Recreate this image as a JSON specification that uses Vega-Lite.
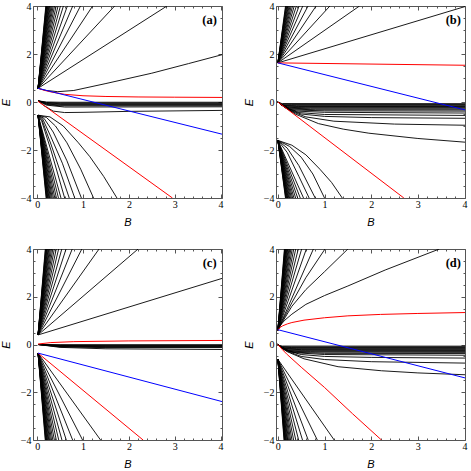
{
"$schema":"https://vega.github.io/schema/vega-lite/v6.json",
"padding":{"left":0,"top":0,"right":0,"bottom":0},
"config":{"view":{"stroke":"#555","strokeWidth":1},"axis":{"labelFont":"Liberation Serif","labelFontSize":10,"labelColor":"#000","titleFont":"Liberation Sans","titleFontSize":11,"titleFontStyle":"italic","titleFontWeight":"normal","titleColor":"#000","tickColor":"#555","domain":false,"grid":false}},
"datasets":{
"aS":[
{"x":0.02,"y":0.57,"x2":2.83,"y2":4},{"x":0.02,"y":0.57,"x2":1.69,"y2":4},{"x":0.02,"y":0.57,"x2":1.21,"y2":4},{"x":0.02,"y":0.57,"x2":0.945,"y2":4},{"x":0.02,"y":0.57,"x2":0.776,"y2":4},{"x":0.02,"y":0.57,"x2":0.659,"y2":4},{"x":0.02,"y":0.57,"x2":0.573,"y2":4},{"x":0.02,"y":0.57,"x2":0.508,"y2":4},{"x":0.02,"y":0.57,"x2":0.456,"y2":4},{"x":0.02,"y":0.57,"x2":0.415,"y2":4},{"x":0.02,"y":0.57,"x2":0.38,"y2":4},{"x":0.02,"y":0.57,"x2":0.351,"y2":4},{"x":0.02,"y":0.57,"x2":0.327,"y2":4},{"x":0.02,"y":0.57,"x2":0.306,"y2":4},{"x":0.02,"y":0.57,"x2":0.287,"y2":4},{"x":0.02,"y":0.57,"x2":0.271,"y2":4},{"x":0.02,"y":0.57,"x2":0.257,"y2":4},{"x":0.02,"y":0.57,"x2":0.244,"y2":4},{"x":0.02,"y":0.57,"x2":0.232,"y2":4},{"x":0.02,"y":0.57,"x2":0.222,"y2":4},{"x":0.02,"y":0.57,"x2":0.212,"y2":4},{"x":0.02,"y":0.57,"x2":0.204,"y2":4},{"x":0.02,"y":0.57,"x2":0.196,"y2":4},{"x":0.02,"y":0.57,"x2":0.189,"y2":4},
{"x":0.02,"y":-0.55,"x2":0.52,"y2":-4},{"x":0.02,"y":-0.55,"x2":0.465,"y2":-4},{"x":0.02,"y":-0.55,"x2":0.421,"y2":-4},{"x":0.02,"y":-0.55,"x2":0.385,"y2":-4},{"x":0.02,"y":-0.55,"x2":0.355,"y2":-4},{"x":0.02,"y":-0.55,"x2":0.329,"y2":-4},{"x":0.02,"y":-0.55,"x2":0.308,"y2":-4},{"x":0.02,"y":-0.55,"x2":0.288,"y2":-4},{"x":0.02,"y":-0.55,"x2":0.272,"y2":-4},{"x":0.02,"y":-0.55,"x2":0.257,"y2":-4},{"x":0.02,"y":-0.55,"x2":0.244,"y2":-4},{"x":0.02,"y":-0.55,"x2":0.232,"y2":-4},{"x":0.02,"y":-0.55,"x2":0.222,"y2":-4},{"x":0.02,"y":-0.55,"x2":0.212,"y2":-4},{"x":0.02,"y":-0.55,"x2":0.204,"y2":-4},{"x":0.02,"y":-0.55,"x2":0.196,"y2":-4}
],
"aK":[
{"k":"u0","x":0.02,"y":0.57},{"k":"u0","x":0.2,"y":0.48},{"k":"u0","x":0.45,"y":0.43},{"k":"u0","x":0.8,"y":0.48},{"k":"u0","x":1.5,"y":0.77},{"k":"u0","x":2.5,"y":1.2},{"k":"u0","x":3.3,"y":1.6},{"k":"u0","x":4.05,"y":1.98},
{"k":"d1","x":0.02,"y":-0.55},{"k":"d1","x":0.28,"y":-0.62},{"k":"d1","x":0.57,"y":-1.0},{"k":"d1","x":0.9,"y":-1.7},{"k":"d1","x":1.15,"y":-2.28},{"k":"d1","x":1.45,"y":-3.1},{"k":"d1","x":1.74,"y":-4},
{"k":"d2","x":0.02,"y":-0.55},{"k":"d2","x":0.2,"y":-0.64},{"k":"d2","x":0.4,"y":-1.0},{"k":"d2","x":0.65,"y":-1.7},{"k":"d2","x":0.95,"y":-2.8},{"k":"d2","x":1.23,"y":-4},
{"k":"d3","x":0.02,"y":-0.55},{"k":"d3","x":0.15,"y":-0.68},{"k":"d3","x":0.35,"y":-1.25},{"k":"d3","x":0.65,"y":-2.45},{"k":"d3","x":0.965,"y":-4},
{"k":"d4","x":0.02,"y":-0.55},{"k":"d4","x":0.12,"y":-0.7},{"k":"d4","x":0.3,"y":-1.45},{"k":"d4","x":0.55,"y":-2.55},{"k":"d4","x":0.82,"y":-4},
{"k":"d5","x":0.02,"y":-0.55},{"k":"d5","x":0.1,"y":-0.72},{"k":"d5","x":0.3,"y":-1.75},{"k":"d5","x":0.7,"y":-4},
{"k":"d6","x":0.02,"y":-0.55},{"k":"d6","x":0.1,"y":-0.8},{"k":"d6","x":0.3,"y":-2.0},{"k":"d6","x":0.6,"y":-4},
{"k":"b1","x":0.02,"y":0.05},{"k":"b1","x":0.2,"y":0.0},{"k":"b1","x":0.5,"y":-0.01},{"k":"b1","x":4.05,"y":-0.01},
{"k":"b2","x":0.02,"y":0.05},{"k":"b2","x":0.2,"y":-0.02},{"k":"b2","x":0.5,"y":-0.04},{"k":"b2","x":4.05,"y":-0.04},
{"k":"b3","x":0.02,"y":0.05},{"k":"b3","x":0.2,"y":-0.04},{"k":"b3","x":0.5,"y":-0.07},{"k":"b3","x":4.05,"y":-0.07},
{"k":"b4","x":0.02,"y":0.05},{"k":"b4","x":0.2,"y":-0.06},{"k":"b4","x":0.5,"y":-0.1},{"k":"b4","x":4.05,"y":-0.1},
{"k":"b5","x":0.02,"y":0.05},{"k":"b5","x":0.2,"y":-0.08},{"k":"b5","x":0.5,"y":-0.13},{"k":"b5","x":4.05,"y":-0.13},
{"k":"b6","x":0.02,"y":0.05},{"k":"b6","x":0.2,"y":-0.1},{"k":"b6","x":0.5,"y":-0.16},{"k":"b6","x":4.05,"y":-0.16},
{"k":"b7","x":0.02,"y":0.05},{"k":"b7","x":0.2,"y":-0.13},{"k":"b7","x":0.6,"y":-0.21},{"k":"b7","x":4.05,"y":-0.2},
{"k":"b8","x":0.02,"y":0.05},{"k":"b8","x":0.15,"y":-0.15},{"k":"b8","x":0.35,"y":-0.38},{"k":"b8","x":0.6,"y":-0.44},{"k":"b8","x":1.0,"y":-0.43},{"k":"b8","x":2,"y":-0.39},{"k":"b8","x":4.05,"y":-0.35}
],
"aX":[
{"k":"r1","s":"red","x":0.02,"y":0.57},{"k":"r1","s":"red","x":0.15,"y":0.49},{"k":"r1","s":"red","x":0.3,"y":0.42},{"k":"r1","s":"red","x":0.6,"y":0.32},{"k":"r1","s":"red","x":1.0,"y":0.26},{"k":"r1","s":"red","x":1.5,"y":0.23},{"k":"r1","s":"red","x":2.2,"y":0.21},{"k":"r1","s":"red","x":3,"y":0.2},{"k":"r1","s":"red","x":4.05,"y":0.19},
{"k":"r2","s":"red","x":0.02,"y":0.03},{"k":"r2","s":"red","x":2.95,"y":-4},
{"k":"b1","s":"blue","x":0.02,"y":0.57},{"k":"b1","s":"blue","x":4.05,"y":-1.35}
],
"bS":[
{"x":0,"y":1.63,"x2":4.05,"y2":4.0},
{"x":0,"y":1.63,"x2":1.749,"y2":4},{"x":0,"y":1.63,"x2":1.115,"y2":4},{"x":0,"y":1.63,"x2":0.819,"y2":4},{"x":0,"y":1.63,"x2":0.647,"y2":4},{"x":0,"y":1.63,"x2":0.534,"y2":4},{"x":0,"y":1.63,"x2":0.455,"y2":4},{"x":0,"y":1.63,"x2":0.397,"y2":4},{"x":0,"y":1.63,"x2":0.351,"y2":4},{"x":0,"y":1.63,"x2":0.315,"y2":4},{"x":0,"y":1.63,"x2":0.286,"y2":4},{"x":0,"y":1.63,"x2":0.262,"y2":4},{"x":0,"y":1.63,"x2":0.241,"y2":4},{"x":0,"y":1.63,"x2":0.224,"y2":4},{"x":0,"y":1.63,"x2":0.209,"y2":4},{"x":0,"y":1.63,"x2":0.195,"y2":4},{"x":0,"y":1.63,"x2":0.184,"y2":4},{"x":0,"y":1.63,"x2":0.173,"y2":4},{"x":0,"y":1.63,"x2":0.164,"y2":4},
{"x":0,"y":-1.6,"x2":0.55,"y2":-4},{"x":0,"y":-1.6,"x2":0.48,"y2":-4},{"x":0,"y":-1.6,"x2":0.425,"y2":-4},{"x":0,"y":-1.6,"x2":0.381,"y2":-4},{"x":0,"y":-1.6,"x2":0.345,"y2":-4},{"x":0,"y":-1.6,"x2":0.316,"y2":-4},{"x":0,"y":-1.6,"x2":0.291,"y2":-4},{"x":0,"y":-1.6,"x2":0.27,"y2":-4},{"x":0,"y":-1.6,"x2":0.251,"y2":-4},{"x":0,"y":-1.6,"x2":0.235,"y2":-4},{"x":0,"y":-1.6,"x2":0.221,"y2":-4},{"x":0,"y":-1.6,"x2":0.209,"y2":-4},{"x":0,"y":-1.6,"x2":0.198,"y2":-4},{"x":0,"y":-1.6,"x2":0.188,"y2":-4},{"x":0,"y":-1.6,"x2":0.178,"y2":-4},{"x":0,"y":-1.6,"x2":0.17,"y2":-4},{"x":0,"y":-1.6,"x2":0.163,"y2":-4}
],
"bK":[
{"k":"d1","x":0,"y":-1.6},{"k":"d1","x":0.3,"y":-1.8},{"k":"d1","x":0.6,"y":-2.2},{"k":"d1","x":0.9,"y":-2.8},{"k":"d1","x":1.15,"y":-3.35},{"k":"d1","x":1.38,"y":-4},
{"k":"d2","x":0,"y":-1.6},{"k":"d2","x":0.25,"y":-1.85},{"k":"d2","x":0.5,"y":-2.3},{"k":"d2","x":0.75,"y":-3.0},{"k":"d2","x":1.0,"y":-4},
{"k":"d3","x":0,"y":-1.6},{"k":"d3","x":0.2,"y":-1.92},{"k":"d3","x":0.45,"y":-2.65},{"k":"d3","x":0.8,"y":-4},
{"k":"d4","x":0,"y":-1.6},{"k":"d4","x":0.2,"y":-2.1},{"k":"d4","x":0.45,"y":-3.1},{"k":"d4","x":0.67,"y":-4},
{"k":"L1","x":0,"y":0},{"k":"L1","x":0.15,"y":-0.22},{"k":"L1","x":0.37,"y":-0.5},{"k":"L1","x":0.87,"y":-0.9},{"k":"L1","x":1.4,"y":-1.13},{"k":"L1","x":1.95,"y":-1.3},{"k":"L1","x":3,"y":-1.52},{"k":"L1","x":4.05,"y":-1.68},
{"k":"L2","x":0,"y":0},{"k":"L2","x":0.15,"y":-0.22},{"k":"L2","x":0.3,"y":-0.4},{"k":"L2","x":0.6,"y":-0.62},{"k":"L2","x":1.2,"y":-0.8},{"k":"L2","x":2.5,"y":-0.92},{"k":"L2","x":4.05,"y":-0.97},
{"k":"L3","x":0,"y":0},{"k":"L3","x":0.12,"y":-0.18},{"k":"L3","x":0.25,"y":-0.34},{"k":"L3","x":0.5,"y":-0.5},{"k":"L3","x":1,"y":-0.6},{"k":"L3","x":2,"y":-0.65},{"k":"L3","x":4.05,"y":-0.68},
{"k":"L4","x":0,"y":0},{"k":"L4","x":0.1,"y":-0.15},{"k":"L4","x":0.2,"y":-0.28},{"k":"L4","x":0.45,"y":-0.44},{"k":"L4","x":1,"y":-0.52},{"k":"L4","x":4.05,"y":-0.56},
{"k":"L5","x":0,"y":0},{"k":"L5","x":0.1,"y":-0.15},{"k":"L5","x":0.2,"y":-0.27},{"k":"L5","x":0.4,"y":-0.38},{"k":"L5","x":1,"y":-0.43},{"k":"L5","x":4.05,"y":-0.46},
{"k":"L6","x":0,"y":0},{"k":"L6","x":0.1,"y":-0.15},{"k":"L6","x":0.3,"y":-0.33},{"k":"L6","x":1,"y":-0.37},{"k":"L6","x":4.05,"y":-0.38},
{"k":"L7","x":0,"y":0},{"k":"L7","x":0.1,"y":-0.15},{"k":"L7","x":0.25,"y":-0.29},{"k":"L7","x":0.8,"y":-0.325},{"k":"L7","x":4.05,"y":-0.33},
{"k":"L8","x":0,"y":0},{"k":"L8","x":0.1,"y":-0.14},{"k":"L8","x":0.25,"y":-0.26},{"k":"L8","x":0.7,"y":-0.285},{"k":"L8","x":4.05,"y":-0.29},
{"k":"L9","x":0,"y":0},{"k":"L9","x":0.1,"y":-0.14},{"k":"L9","x":0.2,"y":-0.22},{"k":"L9","x":0.6,"y":-0.245},{"k":"L9","x":4.05,"y":-0.25},
{"k":"L10","x":0,"y":0},{"k":"L10","x":0.08,"y":-0.12},{"k":"L10","x":0.2,"y":-0.2},{"k":"L10","x":0.5,"y":-0.215},{"k":"L10","x":4.05,"y":-0.22},
{"k":"L11","x":0,"y":0},{"k":"L11","x":0.08,"y":-0.11},{"k":"L11","x":0.18,"y":-0.17},{"k":"L11","x":0.45,"y":-0.186},{"k":"L11","x":4.05,"y":-0.19},
{"k":"L12","x":0,"y":0},{"k":"L12","x":0.07,"y":-0.1},{"k":"L12","x":0.15,"y":-0.145},{"k":"L12","x":0.4,"y":-0.158},{"k":"L12","x":4.05,"y":-0.16},
{"k":"L13","x":0,"y":0},{"k":"L13","x":0.06,"y":-0.085},{"k":"L13","x":0.12,"y":-0.12},{"k":"L13","x":0.3,"y":-0.128},{"k":"L13","x":4.05,"y":-0.13},
{"k":"L14","x":0,"y":0},{"k":"L14","x":0.05,"y":-0.07},{"k":"L14","x":0.1,"y":-0.09},{"k":"L14","x":0.3,"y":-0.099},{"k":"L14","x":4.05,"y":-0.1},
{"k":"L15","x":0,"y":0},{"k":"L15","x":0.04,"y":-0.05},{"k":"L15","x":0.1,"y":-0.065},{"k":"L15","x":4.05,"y":-0.07}
],
"bX":[
{"k":"r1","s":"red","x":0,"y":1.63},{"k":"r1","s":"red","x":4.05,"y":1.53},
{"k":"r2","s":"red","x":0,"y":0},{"k":"r2","s":"red","x":2.7,"y":-4},
{"k":"b1","s":"blue","x":0,"y":1.63},{"k":"b1","s":"blue","x":4.05,"y":-0.35}
],
"cS":[
{"x":0.02,"y":0.4,"x2":4.05,"y2":2.78},
{"x":0.02,"y":0.4,"x2":2.2,"y2":4},{"x":0.02,"y":0.4,"x2":1.35,"y2":4},{"x":0.02,"y":0.4,"x2":0.975,"y2":4},{"x":0.02,"y":0.4,"x2":0.765,"y2":4},{"x":0.02,"y":0.4,"x2":0.631,"y2":4},{"x":0.02,"y":0.4,"x2":0.538,"y2":4},{"x":0.02,"y":0.4,"x2":0.469,"y2":4},{"x":0.02,"y":0.4,"x2":0.417,"y2":4},{"x":0.02,"y":0.4,"x2":0.375,"y2":4},{"x":0.02,"y":0.4,"x2":0.342,"y2":4},{"x":0.02,"y":0.4,"x2":0.314,"y2":4},{"x":0.02,"y":0.4,"x2":0.29,"y2":4},{"x":0.02,"y":0.4,"x2":0.27,"y2":4},{"x":0.02,"y":0.4,"x2":0.253,"y2":4},{"x":0.02,"y":0.4,"x2":0.238,"y2":4},{"x":0.02,"y":0.4,"x2":0.225,"y2":4},{"x":0.02,"y":0.4,"x2":0.213,"y2":4},{"x":0.02,"y":0.4,"x2":0.203,"y2":4},{"x":0.02,"y":0.4,"x2":0.194,"y2":4},{"x":0.02,"y":0.4,"x2":0.185,"y2":4},{"x":0.02,"y":0.4,"x2":0.178,"y2":4},
{"x":0.02,"y":-0.36,"x2":1.383,"y2":-4},{"x":0.02,"y":-0.36,"x2":0.991,"y2":-4},{"x":0.02,"y":-0.36,"x2":0.774,"y2":-4},{"x":0.02,"y":-0.36,"x2":0.636,"y2":-4},{"x":0.02,"y":-0.36,"x2":0.541,"y2":-4},{"x":0.02,"y":-0.36,"x2":0.471,"y2":-4},{"x":0.02,"y":-0.36,"x2":0.418,"y2":-4},{"x":0.02,"y":-0.36,"x2":0.376,"y2":-4},{"x":0.02,"y":-0.36,"x2":0.342,"y2":-4},{"x":0.02,"y":-0.36,"x2":0.314,"y2":-4},{"x":0.02,"y":-0.36,"x2":0.29,"y2":-4},{"x":0.02,"y":-0.36,"x2":0.27,"y2":-4},{"x":0.02,"y":-0.36,"x2":0.253,"y2":-4},{"x":0.02,"y":-0.36,"x2":0.238,"y2":-4},{"x":0.02,"y":-0.36,"x2":0.225,"y2":-4},{"x":0.02,"y":-0.36,"x2":0.213,"y2":-4},{"x":0.02,"y":-0.36,"x2":0.203,"y2":-4},{"x":0.02,"y":-0.36,"x2":0.193,"y2":-4},{"x":0.02,"y":-0.36,"x2":0.185,"y2":-4},{"x":0.02,"y":-0.36,"x2":0.177,"y2":-4}
],
"cK":[
{"k":"c1","x":0.02,"y":0},{"k":"c1","x":0.5,"y":-0.01},{"k":"c1","x":4.05,"y":-0.01},
{"k":"c2","x":0.02,"y":0},{"k":"c2","x":0.5,"y":-0.025},{"k":"c2","x":1.5,"y":-0.03},{"k":"c2","x":4.05,"y":-0.03},
{"k":"c3","x":0.02,"y":0},{"k":"c3","x":0.5,"y":-0.04},{"k":"c3","x":1.5,"y":-0.05},{"k":"c3","x":4.05,"y":-0.05},
{"k":"c4","x":0.02,"y":0},{"k":"c4","x":0.5,"y":-0.055},{"k":"c4","x":1.5,"y":-0.07},{"k":"c4","x":4.05,"y":-0.07},
{"k":"c5","x":0.02,"y":0},{"k":"c5","x":0.5,"y":-0.07},{"k":"c5","x":1.5,"y":-0.09},{"k":"c5","x":4.05,"y":-0.09},
{"k":"c6","x":0.02,"y":0},{"k":"c6","x":0.5,"y":-0.085},{"k":"c6","x":1.5,"y":-0.11},{"k":"c6","x":4.05,"y":-0.11},
{"k":"c7","x":0.02,"y":0},{"k":"c7","x":0.5,"y":-0.1},{"k":"c7","x":1.5,"y":-0.13},{"k":"c7","x":4.05,"y":-0.13},
{"k":"c8","x":0.02,"y":0},{"k":"c8","x":0.5,"y":-0.12},{"k":"c8","x":1.5,"y":-0.18},{"k":"c8","x":4.05,"y":-0.21}
],
"cX":[
{"k":"r1","s":"red","x":0.02,"y":0.02},{"k":"r1","s":"red","x":0.3,"y":0.08},{"k":"r1","s":"red","x":0.8,"y":0.12},{"k":"r1","s":"red","x":2,"y":0.15},{"k":"r1","s":"red","x":4.05,"y":0.17},
{"k":"r2","s":"red","x":0.02,"y":-0.36},{"k":"r2","s":"red","x":2.31,"y":-4},
{"k":"b1","s":"blue","x":0.02,"y":-0.36},{"k":"b1","s":"blue","x":4.05,"y":-2.4}
],
"dS":[
{"x":0,"y":0.6,"x2":0.761,"y2":4},{"x":0,"y":0.6,"x2":0.61,"y2":4},{"x":0,"y":0.6,"x2":0.51,"y2":4},{"x":0,"y":0.6,"x2":0.438,"y2":4},{"x":0,"y":0.6,"x2":0.383,"y2":4},{"x":0,"y":0.6,"x2":0.341,"y2":4},{"x":0,"y":0.6,"x2":0.307,"y2":4},{"x":0,"y":0.6,"x2":0.279,"y2":4},{"x":0,"y":0.6,"x2":0.256,"y2":4},{"x":0,"y":0.6,"x2":0.237,"y2":4},{"x":0,"y":0.6,"x2":0.22,"y2":4},{"x":0,"y":0.6,"x2":0.205,"y2":4},{"x":0,"y":0.6,"x2":0.192,"y2":4},{"x":0,"y":0.6,"x2":0.181,"y2":4},{"x":0,"y":0.6,"x2":0.171,"y2":4},{"x":0,"y":0.6,"x2":0.162,"y2":4},{"x":0,"y":0.6,"x2":0.154,"y2":4},{"x":0,"y":0.6,"x2":0.147,"y2":4},{"x":0,"y":0.6,"x2":0.14,"y2":4},
{"x":0,"y":-0.62,"x2":1.207,"y2":-4},{"x":0,"y":-0.62,"x2":0.845,"y2":-4},{"x":0,"y":-0.62,"x2":0.65,"y2":-4},{"x":0,"y":-0.62,"x2":0.528,"y2":-4},{"x":0,"y":-0.62,"x2":0.445,"y2":-4},{"x":0,"y":-0.62,"x2":0.384,"y2":-4},{"x":0,"y":-0.62,"x2":0.338,"y2":-4},{"x":0,"y":-0.62,"x2":0.302,"y2":-4},{"x":0,"y":-0.62,"x2":0.273,"y2":-4},{"x":0,"y":-0.62,"x2":0.249,"y2":-4},{"x":0,"y":-0.62,"x2":0.228,"y2":-4},{"x":0,"y":-0.62,"x2":0.211,"y2":-4},{"x":0,"y":-0.62,"x2":0.197,"y2":-4},{"x":0,"y":-0.62,"x2":0.184,"y2":-4},{"x":0,"y":-0.62,"x2":0.172,"y2":-4},{"x":0,"y":-0.62,"x2":0.163,"y2":-4},{"x":0,"y":-0.62,"x2":0.154,"y2":-4},{"x":0,"y":-0.62,"x2":0.146,"y2":-4},{"x":0,"y":-0.62,"x2":0.139,"y2":-4},{"x":0,"y":-0.62,"x2":0.132,"y2":-4}
],
"dK":[
{"k":"u0","x":0,"y":0.6},{"k":"u0","x":0.05,"y":0.8},{"k":"u0","x":0.15,"y":1.02},{"k":"u0","x":0.3,"y":1.27},{"k":"u0","x":0.6,"y":1.68},{"k":"u0","x":1.0,"y":2.05},{"k":"u0","x":1.5,"y":2.45},{"k":"u0","x":2.3,"y":3.12},{"k":"u0","x":3.46,"y":4},
{"k":"u1","x":0,"y":0.6},{"k":"u1","x":0.1,"y":0.95},{"k":"u1","x":0.3,"y":1.6},{"k":"u1","x":0.6,"y":2.3},{"k":"u1","x":1.0,"y":3.05},{"k":"u1","x":1.5,"y":4},
{"k":"u2","x":0,"y":0.6},{"k":"u2","x":0.1,"y":1.0},{"k":"u2","x":0.3,"y":1.75},{"k":"u2","x":0.6,"y":2.8},{"k":"u2","x":1.01,"y":4},
{"k":"L1","x":0,"y":0},{"k":"L1","x":0.1,"y":-0.17},{"k":"L1","x":0.2,"y":-0.3},{"k":"L1","x":0.56,"y":-0.6},{"k":"L1","x":1.29,"y":-0.93},{"k":"L1","x":2.22,"y":-1.1},{"k":"L1","x":3,"y":-1.19},{"k":"L1","x":4.05,"y":-1.27},
{"k":"L2","x":0,"y":0},{"k":"L2","x":0.1,"y":-0.17},{"k":"L2","x":0.2,"y":-0.28},{"k":"L2","x":0.5,"y":-0.5},{"k":"L2","x":1.0,"y":-0.63},{"k":"L2","x":2,"y":-0.72},{"k":"L2","x":4.05,"y":-0.78},
{"k":"L3","x":0,"y":0},{"k":"L3","x":0.1,"y":-0.16},{"k":"L3","x":0.2,"y":-0.26},{"k":"L3","x":0.5,"y":-0.42},{"k":"L3","x":1,"y":-0.5},{"k":"L3","x":2,"y":-0.54},{"k":"L3","x":4.05,"y":-0.57},
{"k":"L4","x":0,"y":0},{"k":"L4","x":0.08,"y":-0.13},{"k":"L4","x":0.15,"y":-0.22},{"k":"L4","x":0.4,"y":-0.35},{"k":"L4","x":1,"y":-0.42},{"k":"L4","x":4.05,"y":-0.45},
{"k":"L5","x":0,"y":0},{"k":"L5","x":0.08,"y":-0.13},{"k":"L5","x":0.3,"y":-0.32},{"k":"L5","x":1,"y":-0.37},{"k":"L5","x":4.05,"y":-0.38},
{"k":"L6","x":0,"y":0},{"k":"L6","x":0.08,"y":-0.13},{"k":"L6","x":0.25,"y":-0.28},{"k":"L6","x":0.8,"y":-0.32},{"k":"L6","x":4.05,"y":-0.33},
{"k":"L7","x":0,"y":0},{"k":"L7","x":0.07,"y":-0.12},{"k":"L7","x":0.22,"y":-0.25},{"k":"L7","x":0.7,"y":-0.285},{"k":"L7","x":4.05,"y":-0.29},
{"k":"L8","x":0,"y":0},{"k":"L8","x":0.07,"y":-0.12},{"k":"L8","x":0.2,"y":-0.22},{"k":"L8","x":0.6,"y":-0.245},{"k":"L8","x":4.05,"y":-0.25},
{"k":"L9","x":0,"y":0},{"k":"L9","x":0.06,"y":-0.1},{"k":"L9","x":0.18,"y":-0.19},{"k":"L9","x":0.5,"y":-0.215},{"k":"L9","x":4.05,"y":-0.22},
{"k":"L10","x":0,"y":0},{"k":"L10","x":0.06,"y":-0.1},{"k":"L10","x":0.16,"y":-0.165},{"k":"L10","x":0.45,"y":-0.186},{"k":"L10","x":4.05,"y":-0.19},
{"k":"L11","x":0,"y":0},{"k":"L11","x":0.05,"y":-0.085},{"k":"L11","x":0.14,"y":-0.14},{"k":"L11","x":0.4,"y":-0.158},{"k":"L11","x":4.05,"y":-0.16},
{"k":"L12","x":0,"y":0},{"k":"L12","x":0.05,"y":-0.08},{"k":"L12","x":0.12,"y":-0.115},{"k":"L12","x":0.3,"y":-0.128},{"k":"L12","x":4.05,"y":-0.13},
{"k":"L13","x":0,"y":0},{"k":"L13","x":0.04,"y":-0.06},{"k":"L13","x":0.1,"y":-0.09},{"k":"L13","x":0.3,"y":-0.099},{"k":"L13","x":4.05,"y":-0.1},
{"k":"L14","x":0,"y":0},{"k":"L14","x":0.04,"y":-0.05},{"k":"L14","x":0.1,"y":-0.065},{"k":"L14","x":4.05,"y":-0.07}
],
"dX":[
{"k":"r1","s":"red","x":0,"y":0.6},{"k":"r1","s":"red","x":0.05,"y":0.72},{"k":"r1","s":"red","x":0.1,"y":0.78},{"k":"r1","s":"red","x":0.2,"y":0.86},{"k":"r1","s":"red","x":0.3,"y":0.92},{"k":"r1","s":"red","x":0.56,"y":1.02},{"k":"r1","s":"red","x":1.0,"y":1.12},{"k":"r1","s":"red","x":1.5,"y":1.2},{"k":"r1","s":"red","x":2.2,"y":1.26},{"k":"r1","s":"red","x":3,"y":1.3},{"k":"r1","s":"red","x":4.05,"y":1.34},
{"k":"r2","s":"red","x":0,"y":0},{"k":"r2","s":"red","x":0.1,"y":-0.22},{"k":"r2","s":"red","x":0.2,"y":-0.42},{"k":"r2","s":"red","x":0.5,"y":-0.95},{"k":"r2","s":"red","x":1.0,"y":-1.8},{"k":"r2","s":"red","x":1.6,"y":-2.9},{"k":"r2","s":"red","x":2.22,"y":-4},
{"k":"b1","s":"blue","x":0,"y":0.62},{"k":"b1","s":"blue","x":4.05,"y":-1.42}
]
},
"columns":2,"spacing":{"row":51,"column":54},"bounds":"flush",
"concat":[
{"width":189,"height":192,"resolve":{"axis":{"x":"independent","y":"independent"}},"layer":[
{"data":{"name":"aS"},"mark":{"type":"rule","clip":true,"color":"#000","strokeWidth":0.9},"encoding":{
"x":{"field":"x","type":"quantitative","scale":{"domain":[-0.09,4.03],"nice":false,"zero":false},"axis":{"orient":"bottom","title":"B","format":"d","values":[0,1,2,3,4],"tickSize":-4,"labelFlush":false,"labelOverlap":false,"labelPadding":5,"titlePadding":7}},
"y":{"field":"y","type":"quantitative","scale":{"domain":[-4,4],"nice":false,"zero":false},"axis":{"orient":"left","title":"E","format":"d","values":[-4,-2,0,2,4],"tickSize":-4,"labelFlush":false,"labelOverlap":false,"labelPadding":6,"titlePadding":8.5}},
"x2":{"field":"x2"},"y2":{"field":"y2"}}},
{"data":{"name":"aK"},"mark":{"type":"line","clip":true,"color":"#000","strokeWidth":0.9},"encoding":{
"x":{"field":"x","type":"quantitative","scale":{"domain":[-0.09,4.03],"nice":false,"zero":false},"axis":{"orient":"bottom","title":null,"labels":false,"values":[0.2,0.4,0.6,0.8,1.2,1.4,1.6,1.8,2.2,2.4,2.6,2.8,3.2,3.4,3.6,3.8],"tickSize":-2}},
"y":{"field":"y","type":"quantitative","scale":{"domain":[-4,4],"nice":false,"zero":false},"axis":{"orient":"left","title":null,"labels":false,"values":[-3.5,-3,-2.5,-1.5,-1,-0.5,0.5,1,1.5,2.5,3,3.5],"tickSize":-2}},
"detail":{"field":"k"}}},
{"data":{"name":"aX"},"mark":{"type":"line","clip":true,"strokeWidth":1},"encoding":{
"x":{"field":"x","type":"quantitative","scale":{"domain":[-0.09,4.03],"nice":false,"zero":false},"axis":{"orient":"top","title":null,"labels":false,"values":[0,0.2,0.4,0.6,0.8,1,1.2,1.4,1.6,1.8,2,2.2,2.4,2.6,2.8,3,3.2,3.4,3.6,3.8,4],"tickSize":{"condition":{"test":"datum.value % 1 === 0","value":-4},"value":-2}}},
"y":{"field":"y","type":"quantitative","scale":{"domain":[-4,4],"nice":false,"zero":false},"axis":{"orient":"right","title":null,"labels":false,"values":[-4,-3.5,-3,-2.5,-2,-1.5,-1,-0.5,0,0.5,1,1.5,2,2.5,3,3.5,4],"tickSize":{"condition":{"test":"datum.value % 2 === 0","value":-4},"value":-2}}},
"detail":{"field":"k"},"color":{"field":"s","type":"nominal","scale":{"domain":["red","blue"],"range":["#ff0000","#0000ff"]},"legend":null}}},
{"data":{"values":[{"t":"(a)"}]},"mark":{"type":"text","font":"Liberation Serif","fontWeight":"bold","fontSize":12.5},"encoding":{
"x":{"datum":3.76,"type":"quantitative","scale":{"domain":[-0.09,4.03],"nice":false,"zero":false},"axis":null},
"y":{"datum":3.4,"type":"quantitative","scale":{"domain":[-4,4],"nice":false,"zero":false},"axis":null},
"text":{"field":"t"}}}
]},
{"width":189,"height":192,"resolve":{"axis":{"x":"independent","y":"independent"}},"layer":[
{"data":{"name":"bS"},"mark":{"type":"rule","clip":true,"color":"#000","strokeWidth":0.9},"encoding":{
"x":{"field":"x","type":"quantitative","scale":{"domain":[-0.04,4.01],"nice":false,"zero":false},"axis":{"orient":"bottom","title":"B","format":"d","values":[0,1,2,3,4],"tickSize":-4,"labelFlush":false,"labelOverlap":false,"labelPadding":5,"titlePadding":7}},
"y":{"field":"y","type":"quantitative","scale":{"domain":[-4,4],"nice":false,"zero":false},"axis":{"orient":"left","title":"E","format":"d","values":[-4,-2,0,2,4],"tickSize":-4,"labelFlush":false,"labelOverlap":false,"labelPadding":6,"titlePadding":8.5}},
"x2":{"field":"x2"},"y2":{"field":"y2"}}},
{"data":{"name":"bK"},"mark":{"type":"line","clip":true,"color":"#000","strokeWidth":0.9},"encoding":{
"x":{"field":"x","type":"quantitative","scale":{"domain":[-0.04,4.01],"nice":false,"zero":false},"axis":{"orient":"bottom","title":null,"labels":false,"values":[0.2,0.4,0.6,0.8,1.2,1.4,1.6,1.8,2.2,2.4,2.6,2.8,3.2,3.4,3.6,3.8],"tickSize":-2}},
"y":{"field":"y","type":"quantitative","scale":{"domain":[-4,4],"nice":false,"zero":false},"axis":{"orient":"left","title":null,"labels":false,"values":[-3.5,-3,-2.5,-1.5,-1,-0.5,0.5,1,1.5,2.5,3,3.5],"tickSize":-2}},
"detail":{"field":"k"}}},
{"data":{"name":"bX"},"mark":{"type":"line","clip":true,"strokeWidth":1},"encoding":{
"x":{"field":"x","type":"quantitative","scale":{"domain":[-0.04,4.01],"nice":false,"zero":false},"axis":{"orient":"top","title":null,"labels":false,"values":[0,0.2,0.4,0.6,0.8,1,1.2,1.4,1.6,1.8,2,2.2,2.4,2.6,2.8,3,3.2,3.4,3.6,3.8,4],"tickSize":{"condition":{"test":"datum.value % 1 === 0","value":-4},"value":-2}}},
"y":{"field":"y","type":"quantitative","scale":{"domain":[-4,4],"nice":false,"zero":false},"axis":{"orient":"right","title":null,"labels":false,"values":[-4,-3.5,-3,-2.5,-2,-1.5,-1,-0.5,0,0.5,1,1.5,2,2.5,3,3.5,4],"tickSize":{"condition":{"test":"datum.value % 2 === 0","value":-4},"value":-2}}},
"detail":{"field":"k"},"color":{"field":"s","type":"nominal","scale":{"domain":["red","blue"],"range":["#ff0000","#0000ff"]},"legend":null}}},
{"data":{"values":[{"t":"(b)"}]},"mark":{"type":"text","font":"Liberation Serif","fontWeight":"bold","fontSize":12.5},"encoding":{
"x":{"datum":3.76,"type":"quantitative","scale":{"domain":[-0.04,4.01],"nice":false,"zero":false},"axis":null},
"y":{"datum":3.4,"type":"quantitative","scale":{"domain":[-4,4],"nice":false,"zero":false},"axis":null},
"text":{"field":"t"}}}
]},
{"width":189,"height":191,"resolve":{"axis":{"x":"independent","y":"independent"}},"layer":[
{"data":{"name":"cS"},"mark":{"type":"rule","clip":true,"color":"#000","strokeWidth":0.9},"encoding":{
"x":{"field":"x","type":"quantitative","scale":{"domain":[-0.09,4.03],"nice":false,"zero":false},"axis":{"orient":"bottom","title":"B","format":"d","values":[0,1,2,3,4],"tickSize":-4,"labelFlush":false,"labelOverlap":false,"labelPadding":5,"titlePadding":7}},
"y":{"field":"y","type":"quantitative","scale":{"domain":[-4,4],"nice":false,"zero":false},"axis":{"orient":"left","title":"E","format":"d","values":[-4,-2,0,2,4],"tickSize":-4,"labelFlush":false,"labelOverlap":false,"labelPadding":6,"titlePadding":8.5}},
"x2":{"field":"x2"},"y2":{"field":"y2"}}},
{"data":{"name":"cK"},"mark":{"type":"line","clip":true,"color":"#000","strokeWidth":0.9},"encoding":{
"x":{"field":"x","type":"quantitative","scale":{"domain":[-0.09,4.03],"nice":false,"zero":false},"axis":{"orient":"bottom","title":null,"labels":false,"values":[0.2,0.4,0.6,0.8,1.2,1.4,1.6,1.8,2.2,2.4,2.6,2.8,3.2,3.4,3.6,3.8],"tickSize":-2}},
"y":{"field":"y","type":"quantitative","scale":{"domain":[-4,4],"nice":false,"zero":false},"axis":{"orient":"left","title":null,"labels":false,"values":[-3.5,-3,-2.5,-1.5,-1,-0.5,0.5,1,1.5,2.5,3,3.5],"tickSize":-2}},
"detail":{"field":"k"}}},
{"data":{"name":"cX"},"mark":{"type":"line","clip":true,"strokeWidth":1},"encoding":{
"x":{"field":"x","type":"quantitative","scale":{"domain":[-0.09,4.03],"nice":false,"zero":false},"axis":{"orient":"top","title":null,"labels":false,"values":[0,0.2,0.4,0.6,0.8,1,1.2,1.4,1.6,1.8,2,2.2,2.4,2.6,2.8,3,3.2,3.4,3.6,3.8,4],"tickSize":{"condition":{"test":"datum.value % 1 === 0","value":-4},"value":-2}}},
"y":{"field":"y","type":"quantitative","scale":{"domain":[-4,4],"nice":false,"zero":false},"axis":{"orient":"right","title":null,"labels":false,"values":[-4,-3.5,-3,-2.5,-2,-1.5,-1,-0.5,0,0.5,1,1.5,2,2.5,3,3.5,4],"tickSize":{"condition":{"test":"datum.value % 2 === 0","value":-4},"value":-2}}},
"detail":{"field":"k"},"color":{"field":"s","type":"nominal","scale":{"domain":["red","blue"],"range":["#ff0000","#0000ff"]},"legend":null}}},
{"data":{"values":[{"t":"(c)"}]},"mark":{"type":"text","font":"Liberation Serif","fontWeight":"bold","fontSize":12.5},"encoding":{
"x":{"datum":3.76,"type":"quantitative","scale":{"domain":[-0.09,4.03],"nice":false,"zero":false},"axis":null},
"y":{"datum":3.4,"type":"quantitative","scale":{"domain":[-4,4],"nice":false,"zero":false},"axis":null},
"text":{"field":"t"}}}
]},
{"width":189,"height":191,"resolve":{"axis":{"x":"independent","y":"independent"}},"layer":[
{"data":{"name":"dS"},"mark":{"type":"rule","clip":true,"color":"#000","strokeWidth":0.9},"encoding":{
"x":{"field":"x","type":"quantitative","scale":{"domain":[-0.04,4.01],"nice":false,"zero":false},"axis":{"orient":"bottom","title":"B","format":"d","values":[0,1,2,3,4],"tickSize":-4,"labelFlush":false,"labelOverlap":false,"labelPadding":5,"titlePadding":7}},
"y":{"field":"y","type":"quantitative","scale":{"domain":[-4,4],"nice":false,"zero":false},"axis":{"orient":"left","title":"E","format":"d","values":[-4,-2,0,2,4],"tickSize":-4,"labelFlush":false,"labelOverlap":false,"labelPadding":6,"titlePadding":8.5}},
"x2":{"field":"x2"},"y2":{"field":"y2"}}},
{"data":{"name":"dK"},"mark":{"type":"line","clip":true,"color":"#000","strokeWidth":0.9},"encoding":{
"x":{"field":"x","type":"quantitative","scale":{"domain":[-0.04,4.01],"nice":false,"zero":false},"axis":{"orient":"bottom","title":null,"labels":false,"values":[0.2,0.4,0.6,0.8,1.2,1.4,1.6,1.8,2.2,2.4,2.6,2.8,3.2,3.4,3.6,3.8],"tickSize":-2}},
"y":{"field":"y","type":"quantitative","scale":{"domain":[-4,4],"nice":false,"zero":false},"axis":{"orient":"left","title":null,"labels":false,"values":[-3.5,-3,-2.5,-1.5,-1,-0.5,0.5,1,1.5,2.5,3,3.5],"tickSize":-2}},
"detail":{"field":"k"}}},
{"data":{"name":"dX"},"mark":{"type":"line","clip":true,"strokeWidth":1},"encoding":{
"x":{"field":"x","type":"quantitative","scale":{"domain":[-0.04,4.01],"nice":false,"zero":false},"axis":{"orient":"top","title":null,"labels":false,"values":[0,0.2,0.4,0.6,0.8,1,1.2,1.4,1.6,1.8,2,2.2,2.4,2.6,2.8,3,3.2,3.4,3.6,3.8,4],"tickSize":{"condition":{"test":"datum.value % 1 === 0","value":-4},"value":-2}}},
"y":{"field":"y","type":"quantitative","scale":{"domain":[-4,4],"nice":false,"zero":false},"axis":{"orient":"right","title":null,"labels":false,"values":[-4,-3.5,-3,-2.5,-2,-1.5,-1,-0.5,0,0.5,1,1.5,2,2.5,3,3.5,4],"tickSize":{"condition":{"test":"datum.value % 2 === 0","value":-4},"value":-2}}},
"detail":{"field":"k"},"color":{"field":"s","type":"nominal","scale":{"domain":["red","blue"],"range":["#ff0000","#0000ff"]},"legend":null}}},
{"data":{"values":[{"t":"(d)"}]},"mark":{"type":"text","font":"Liberation Serif","fontWeight":"bold","fontSize":12.5},"encoding":{
"x":{"datum":3.76,"type":"quantitative","scale":{"domain":[-0.04,4.01],"nice":false,"zero":false},"axis":null},
"y":{"datum":3.4,"type":"quantitative","scale":{"domain":[-4,4],"nice":false,"zero":false},"axis":null},
"text":{"field":"t"}}}
]}
]
}
